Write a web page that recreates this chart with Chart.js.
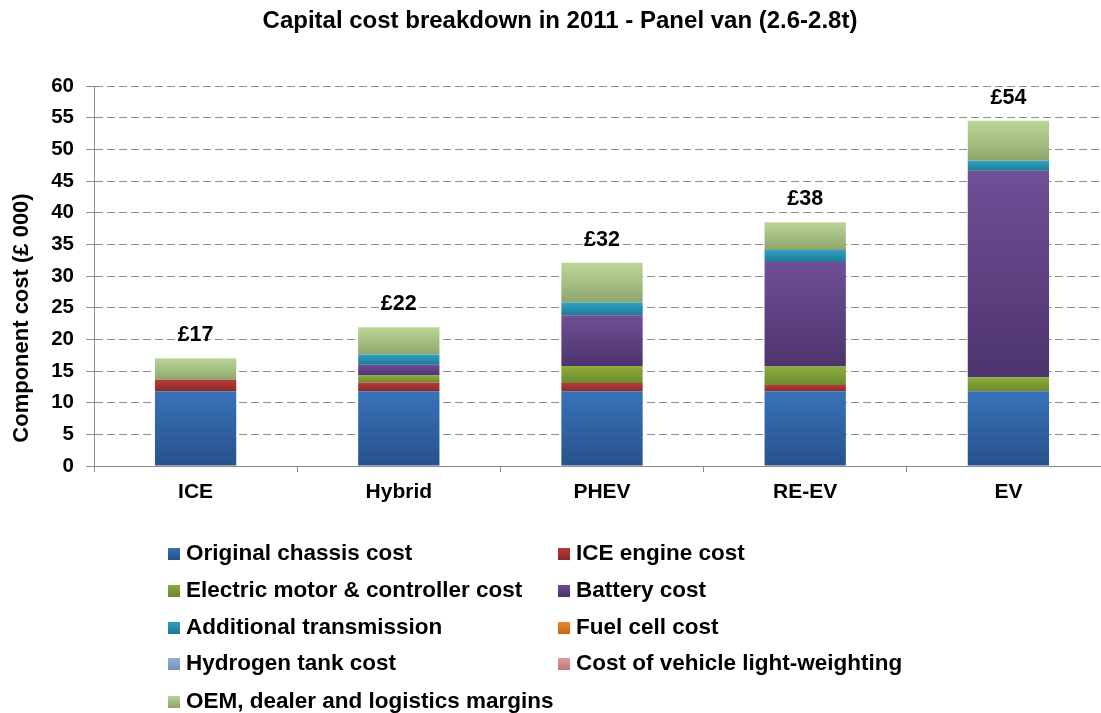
<!DOCTYPE html>
<html>
<head>
<meta charset="utf-8">
<script src="https://cdn.jsdelivr.net/npm/chart.js@4.4.1/dist/chart.umd.min.js"></script>
<style>
  html, body { margin: 0; padding: 0; background: #ffffff; overflow: hidden; }
  #wrap { position: relative; width: 1120px; height: 713px; }
</style>
</head>
<body>
<div id="wrap"><canvas id="c" width="1120" height="713"></canvas></div>
<script>
// ---- data ----
const categories = ['ICE', 'Hybrid', 'PHEV', 'RE-EV', 'EV'];
const chassis      = [11.8, 11.8, 11.8, 11.8, 11.8];
const iceEngine    = [1.8, 1.4, 1.3, 1.0, 0];
const electricMotor= [0, 1.1, 2.7, 2.9, 2.2];
const battery      = [0, 1.7, 8.0, 16.5, 32.6];
const transmission = [0, 1.6, 2.0, 1.9, 1.6];
const fuelCell     = [0, 0, 0, 0, 0];
const hydrogenTank = [0, 0, 0, 0, 0];
const lightWeight  = [0, 0, 0, 0, 0];
const oemMargins   = [3.4, 4.3, 6.3, 4.4, 6.3];
const totalLabels  = ['£17', '£22', '£32', '£38', '£54'];
const yTicks = { min: 0, max: 60, step: 5 };
const chartTitle = 'Capital cost breakdown in 2011 - Panel van (2.6-2.8t)';
const yTitle = 'Component cost (£ 000)';

const seriesNames = ['Original chassis cost', 'ICE engine cost', 'Electric motor & controller cost',
  'Battery cost', 'Additional transmission', 'Fuel cell cost', 'Hydrogen tank cost',
  'Cost of vehicle light-weighting', 'OEM, dealer and logistics margins'];
const seriesData = [chassis, iceEngine, electricMotor, battery, transmission, fuelCell, hydrogenTank, lightWeight, oemMargins];
const seriesColors = [
  ['#3972ba', '#27528b', '#2f62a3'],
  ['#b53d3b', '#8d2a29', '#a33432'],
  ['#8cad3d', '#6c8a2d', '#7c9c35'],
  ['#6f4f97', '#4d346d', '#5e4183'],
  ['#30a2c3', '#207a96', '#2a8eac'],
  ['#f08a30', '#c96a18', '#e07b24'],
  ['#94b0dc', '#7591c0', '#86a1cf'],
  ['#dd9c9a', '#bf7c7a', '#d08c8a'],
  ['#bcd698', '#8ea66c', '#a8c283']
];

function gradFill(si) {
  return function (ctx) {
    const chart = ctx.chart;
    const ys = chart.scales.y;
    if (!ys || ctx.dataIndex === undefined) return seriesColors[si][2];
    let base = 0;
    for (let k = 0; k < si; k++) base += seriesData[k][ctx.dataIndex];
    const top = base + seriesData[si][ctx.dataIndex];
    const y0 = ys.getPixelForValue(top), y1 = ys.getPixelForValue(base);
    if (!isFinite(y0) || !isFinite(y1) || y0 === y1) return seriesColors[si][2];
    const g = chart.ctx.createLinearGradient(0, y0, 0, y1);
    g.addColorStop(0, seriesColors[si][0]);
    g.addColorStop(1, seriesColors[si][1]);
    return g;
  };
}

const datasets = seriesNames.map((n, i) => ({
  label: n,
  data: seriesData[i],
  backgroundColor: gradFill(i),
  borderWidth: 0,
  categoryPercentage: 1.0,
  barPercentage: 0.4
}));

const FONT = '"Liberation Sans", Arial, sans-serif';

const decorPlugin = {
  id: 'decor',
  afterDatasetsDraw(chart) {
    const ctx = chart.ctx;
    const lastMeta = chart.getDatasetMeta(datasets.length - 1);
    ctx.save();
    ctx.font = 'bold 21.5px ' + FONT;
    ctx.fillStyle = '#000';
    ctx.textAlign = 'center';
    ctx.textBaseline = 'middle';
    lastMeta.data.forEach((el, i) => {
      ctx.fillText(totalLabels[i], el.x, el.y - 23);
    });
    ctx.restore();
  },
  afterDraw(chart) {
    const ctx = chart.ctx;
    ctx.save();
    ctx.font = 'bold 24px ' + FONT;
    ctx.fillStyle = '#000';
    ctx.textAlign = 'center';
    ctx.textBaseline = 'middle';
    ctx.fillText(chartTitle, 560, 21);
    ctx.save();
    ctx.translate(22, 318);
    ctx.rotate(-Math.PI / 2);
    ctx.font = 'bold 22px ' + FONT;
    ctx.fillText(yTitle, 0, 0);
    ctx.restore();
    ctx.font = 'bold 22.5px ' + FONT;
    ctx.textAlign = 'left';
    const colX = [168, 558];
    const rowY = [553, 590, 627, 663, 701];
    datasets.forEach((ds, i) => {
      const cx = colX[i % 2], cy = rowY[Math.floor(i / 2)];
      const g = ctx.createLinearGradient(0, cy - 6, 0, cy + 6);
      g.addColorStop(0, seriesColors[i][0]);
      g.addColorStop(1, seriesColors[i][1]);
      ctx.fillStyle = g;
      ctx.fillRect(cx, cy - 5, 12, 12);
      ctx.fillStyle = '#000';
      ctx.fillText(ds.label, cx + 18, cy + 1);
    });
    ctx.restore();
  }
};

new Chart(document.getElementById('c'), {
  type: 'bar',
  data: { labels: categories, datasets },
  options: {
    responsive: false,
    devicePixelRatio: 1,
    animation: false,
    layout: { padding: { top: 86, right: 10, bottom: 207, left: 0 } },
    plugins: { legend: { display: false }, title: { display: false }, tooltip: { enabled: false } },
    scales: {
      x: {
        stacked: true,
        afterFit(s) { s.height = 40; },
        grid: { display: true, drawOnChartArea: false, drawTicks: true, tickLength: 6, color: '#8c8c8c', offset: true },
        border: { display: true, color: '#8c8c8c', width: 1 },
        ticks: { color: '#000', font: { family: FONT, size: 21, weight: 'bold' }, padding: 8 }
      },
      y: {
        stacked: true,
        min: yTicks.min, max: yTicks.max,
        afterFit(s) { s.width = 94; },
        grid: { color: '#8c8c8c', lineWidth: 1, tickLength: 8, tickColor: '#8c8c8c', tickBorderDash: [] },
        border: { display: true, color: '#8c8c8c', width: 1, dash: [8, 4] },
        ticks: { stepSize: yTicks.step, color: '#000', font: { family: FONT, size: 20.5, weight: 'bold' }, padding: 12 }
      }
    }
  },
  plugins: [decorPlugin]
});
</script>
</body>
</html>
